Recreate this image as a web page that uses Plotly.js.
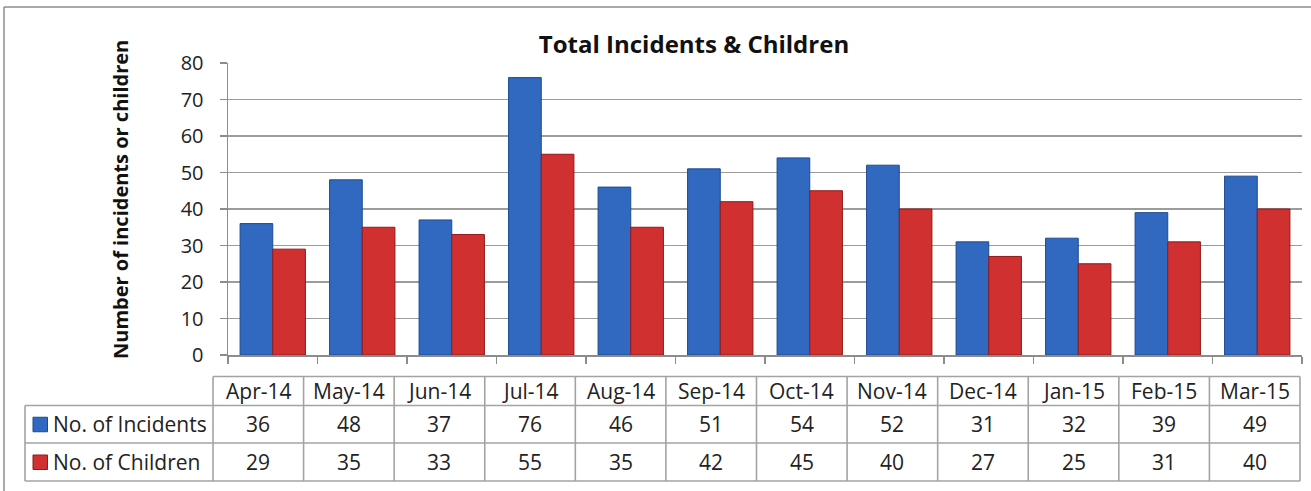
<!DOCTYPE html>
<html>
<head>
<meta charset="utf-8">
<script src="https://cdn.plot.ly/plotly-3.0.1.min.js"></script>
<style>html,body{margin:0;padding:0;background:#fff;}#chart{width:1311px;height:491px;}</style>
</head>
<body>
<div id="chart"></div>
<script>
var months = ["Apr-14","May-14","Jun-14","Jul-14","Aug-14","Sep-14","Oct-14","Nov-14","Dec-14","Jan-15","Feb-15","Mar-15"];
var incidents = [36,48,37,76,46,51,54,52,31,32,39,49];
var children = [29,35,33,55,35,42,45,40,27,25,31,40];
var seriesNames = ["No. of Incidents","No. of Children"];
var yTicks = [0,10,20,30,40,50,60,70,80];

var W = 1311, H = 491;
var mL = 228, mR = 9, mT = 63, mB = 136;
var plotW = W - mL - mR, plotH = H - mT - mB;
function px2x(px){ return (px - mL) / plotW; }
function py2y(py){ return (H - mB - py) / plotH; }

var blue = "#3169C0", blueEdge = "#1D4A8E";
var red = "#D03030", redEdge = "#8E1A1A";
var gridC = "#9C9C9C", tableC = "#A3A3A3";
var font = "Open Sans, sans-serif";

var traces = [
  {type:"bar", name:seriesNames[0], x:months, y:incidents,
   marker:{color:blue, line:{color:blueEdge, width:1}}, hoverinfo:"x+y"},
  {type:"bar", name:seriesNames[1], x:months, y:children,
   marker:{color:red, line:{color:redEdge, width:1}}, hoverinfo:"x+y"}
];

// data table geometry (pixels)
var tLeft = 25, tCol0 = 213, tRight = 1300;
var rHead = 376.5, r1 = 405.5, r2 = 443, r3 = 481;
var colW = (tRight - tCol0) / months.length;

var shapes = [];
function line(x0,y0,x1,y1){
  shapes.push({type:"line", xref:"paper", yref:"paper",
    x0:px2x(x0), y0:py2y(y0), x1:px2x(x1), y1:py2y(y1),
    line:{color:tableC, width:1.6}});
}
line(tCol0, rHead, tRight, rHead);
line(tLeft, r1, tRight, r1);
line(tLeft, r2, tRight, r2);
line(tLeft, r3, tRight, r3);
line(tLeft, r1, tLeft, r3);
for (var i = 0; i <= months.length; i++) {
  var xx = tCol0 + i * colW;
  line(xx, rHead, xx, r3);
}
// outer chart frame (top & left visible)
shapes.push({type:"line", xref:"paper", yref:"paper", x0:px2x(4), x1:px2x(1311), y0:py2y(7), y1:py2y(7), line:{color:"#8C8C8C", width:1.5}});
shapes.push({type:"line", xref:"paper", yref:"paper", x0:px2x(4), x1:px2x(4), y0:py2y(7), y1:py2y(491), line:{color:"#8C8C8C", width:1.5}});
// legend swatches
var sw = [[blue, blueEdge, (r1+r2)/2],[red, redEdge, (r2+r3)/2]];
sw.forEach(function(s){
  shapes.push({type:"rect", xref:"paper", yref:"paper",
    x0:px2x(33), x1:px2x(47.5), y0:py2y(s[2]-7), y1:py2y(s[2]+7.5),
    fillcolor:s[0], line:{color:s[1], width:1}});
});

var annotations = [];
var tf = {family:font, size:21, color:"#222"};
months.forEach(function(m, i){
  var cx = px2x(tCol0 + (i + 0.5) * colW);
  annotations.push({xref:"paper", yref:"paper", x:cx, y:py2y((rHead+r1)/2), text:m, showarrow:false, font:tf, xanchor:"center", yanchor:"middle"});
  annotations.push({xref:"paper", yref:"paper", x:cx, y:py2y((r1+r2)/2), text:String(incidents[i]), showarrow:false, font:tf, xanchor:"center", yanchor:"middle"});
  annotations.push({xref:"paper", yref:"paper", x:cx, y:py2y((r2+r3)/2), text:String(children[i]), showarrow:false, font:tf, xanchor:"center", yanchor:"middle"});
});
annotations.push({xref:"paper", yref:"paper", x:px2x(51), y:py2y((r1+r2)/2), text:seriesNames[0], showarrow:false, font:tf, xanchor:"left", yanchor:"middle"});
annotations.push({xref:"paper", yref:"paper", x:px2x(51), y:py2y((r2+r3)/2), text:seriesNames[1], showarrow:false, font:tf, xanchor:"left", yanchor:"middle"});
// y axis title
annotations.push({xref:"paper", yref:"paper", x:px2x(120), y:py2y(200), text:"<b>Number of incidents or children</b>", textangle:-90, showarrow:false, font:{family:font, size:20, color:"#111"}, xanchor:"center", yanchor:"middle"});

var layout = {
  width:W, height:H,
  margin:{l:mL, r:mR, t:mT, b:mB},
  paper_bgcolor:"#fff", plot_bgcolor:"#fff",
  showlegend:false,
  barmode:"group", bargap:0.27, bargroupgap:0,
  title:{text:"<b>Total Incidents & Children</b>", x:694/W, xanchor:"center", y:1-45/H, yanchor:"middle", font:{family:font, size:24, color:"#111"}},
  xaxis:{type:"category", showticklabels:false, ticks:"outside", tickson:"boundaries", ticklen:7, tickcolor:"#8C8C8C", tickwidth:1.5,
         showline:true, linecolor:"#8C8C8C", linewidth:1.5, showgrid:false, zeroline:false, fixedrange:true},
  yaxis:{range:[0,80], tickvals:yTicks, ticks:"outside", ticklen:7, tickcolor:"#8C8C8C", tickwidth:1.5,
         showline:true, linecolor:"#8C8C8C", linewidth:1.5, showgrid:true, gridcolor:gridC, gridwidth:1.5,
         zeroline:false, tickfont:{family:font, size:20, color:"#222"}, ticklabelstandoff:12, fixedrange:true},
  shapes:shapes,
  annotations:annotations
};

Plotly.newPlot("chart", traces, layout, {displayModeBar:false, staticPlot:true});
</script>
</body>
</html>
